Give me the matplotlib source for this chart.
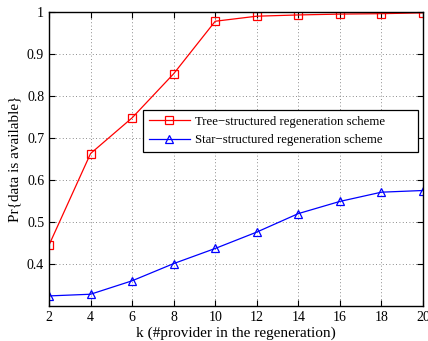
import matplotlib
matplotlib.use("Agg")
import matplotlib.pyplot as plt

k = [2, 4, 6, 8, 10, 12, 14, 16, 18, 20]
tree = [0.445, 0.663, 0.748, 0.853, 0.978, 0.990, 0.993, 0.995, 0.996, 0.998]
star = [0.324, 0.328, 0.360, 0.401, 0.437, 0.476, 0.520, 0.549, 0.571, 0.575]

plt.rcParams["font.family"] = "Liberation Serif"
plt.rcParams["mathtext.fontset"] = "stix"

fig = plt.figure(figsize=(4.28, 3.41), dpi=100)
ax = fig.add_axes([49 / 428, 35 / 341, 374 / 428, 294 / 341])

ax.plot(k, tree, color="red", lw=0.9, marker="s", ms=5.5, mfc="none", mew=0.9,
        label="Tree\u2212structured regeneration scheme")
ax.plot(k, star, color="blue", lw=0.9, marker="^", ms=6, mfc="none", mew=0.9,
        label="Star\u2212structured regeneration scheme")

ax.set_xlim(2, 20)
ax.set_ylim(0.3, 1.0)
ax.set_xticks(k)
ax.set_yticks([0.4, 0.5, 0.6, 0.7, 0.8, 0.9, 1.0])
ax.set_yticklabels(["0.4", "0.5", "0.6", "0.7", "0.8", "0.9", "1"])
ax.grid(True, color="black", ls=(0, (1, 3)), lw=0.6, alpha=0.6)
ax.tick_params(direction="in", top=True, right=True, labelsize=10, length=4)
for s in ax.spines.values():
    s.set_linewidth(1.0)

ax.set_xlabel("k (#provider in the regeneration)", fontsize=11, labelpad=2)
ax.set_ylabel("Pr{data is available}", fontsize=11, labelpad=4)

# legend box spans x 143..418 px, top at y 110 px
leg = ax.legend(loc="upper left", bbox_to_anchor=(0.251, 0.0, 0.735, 0.667),
                mode="expand", borderaxespad=0, fontsize=9.2,
                fancybox=False, framealpha=1, edgecolor="black",
                handlelength=3.2, handletextpad=0.4, borderpad=0.45,
                labelspacing=0.5)
leg.get_frame().set_linewidth(0.9)

fig.savefig("out.png", dpi=100)
